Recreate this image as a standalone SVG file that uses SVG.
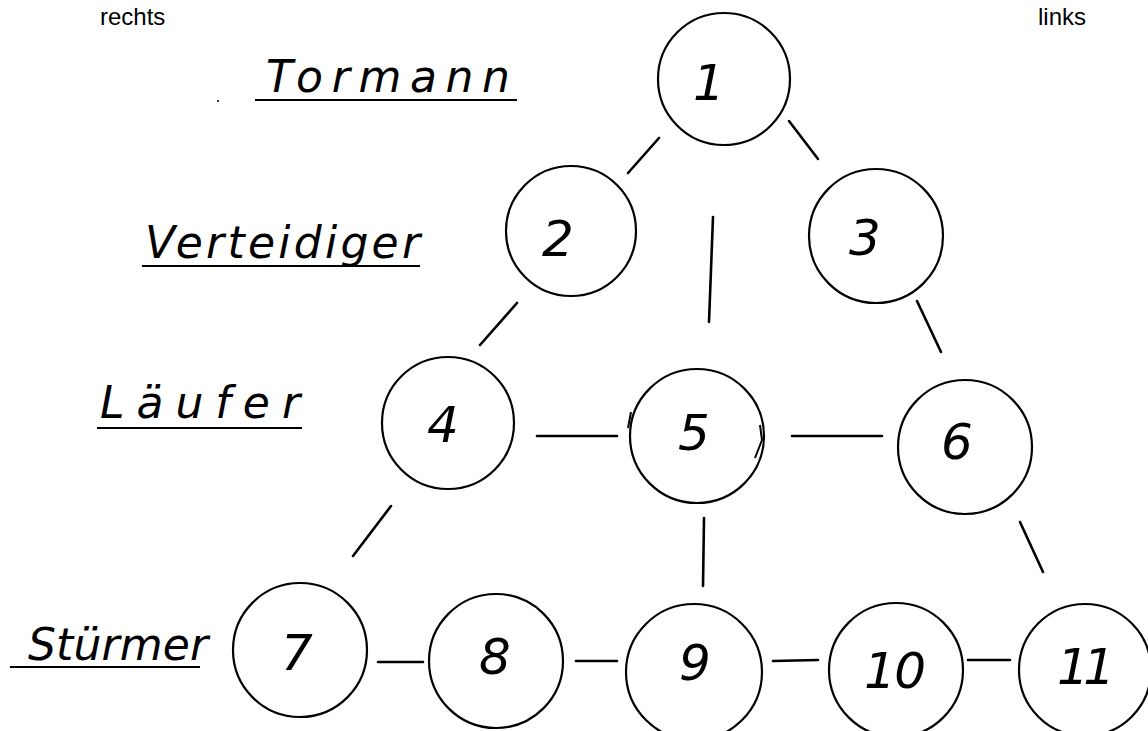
<svg xmlns="http://www.w3.org/2000/svg" width="1148" height="731" viewBox="0 0 1148 731">
  <style>
    .node { fill: none; stroke: #000; stroke-width: 2.2; }
    .num { font-family: "DejaVu Sans", "Liberation Sans", sans-serif; font-style: italic; font-size: 50px; fill: #000; text-anchor: middle; }
    .lbl { font-family: "DejaVu Sans", "Liberation Sans", sans-serif; font-style: italic; font-size: 44px; fill: #000; }
    .ul { stroke: #000; stroke-width: 2; fill: none; }
    .hdr { font-family: "Liberation Sans", Arial, sans-serif; font-size: 24px; fill: #000; }
    .edge { stroke: #000; stroke-width: 2.6; stroke-linecap: round; fill: none; }
  </style>
  <rect width="1148" height="731" fill="#fff"/>

  <text class="hdr" x="100" y="25">rechts</text>
  <text class="hdr" x="1038" y="25">links</text>

  <g id="labels">
    <text class="lbl" x="266" y="92" font-size="50" textLength="244" lengthAdjust="spacing">Tormann</text>
    <line class="ul" x1="255" y1="100" x2="517" y2="100"/>
    <text class="lbl" x="145" y="258" font-size="46" textLength="275" lengthAdjust="spacing">Verteidiger</text>
    <line class="ul" x1="142" y1="266" x2="420" y2="266"/>
    <text class="lbl" x="100" y="418" font-size="48" textLength="200" lengthAdjust="spacing">Läufer</text>
    <line class="ul" x1="97" y1="428" x2="302" y2="428"/>
    <text class="lbl" x="28" y="660" font-size="44" textLength="180" lengthAdjust="spacing">Stürmer</text>
    <line class="ul" x1="10" y1="667" x2="200" y2="667"/>
    <circle cx="218" cy="101" r="1" fill="#000"/>
  </g>

  <g id="connectors">
    <line class="edge" x1="659" y1="138" x2="628" y2="173"/>
    <line class="edge" x1="789" y1="121" x2="818" y2="159"/>
    <line class="edge" x1="713" y1="217" x2="709" y2="322"/>
    <line class="edge" x1="517" y1="303" x2="480" y2="345"/>
    <line class="edge" x1="917" y1="301" x2="941" y2="352"/>
    <line class="edge" x1="537" y1="436" x2="617" y2="436"/>
    <line class="edge" x1="792" y1="436" x2="882" y2="436"/>
    <line class="edge" x1="391" y1="506" x2="353" y2="556"/>
    <line class="edge" x1="704" y1="518" x2="703" y2="586"/>
    <line class="edge" x1="1020" y1="522" x2="1043" y2="572"/>
    <line class="edge" x1="378" y1="662" x2="423" y2="662"/>
    <line class="edge" x1="576" y1="661" x2="617" y2="661"/>
    <line class="edge" x1="773" y1="661" x2="818" y2="660"/>
    <line class="edge" x1="968" y1="660" x2="1010" y2="660"/>
  </g>

  <g id="n1"><circle class="node" cx="724" cy="79" r="66"/><text class="num" x="709" y="100">1</text></g>
  <g id="n2"><circle class="node" cx="571" cy="231" r="65"/><text class="num" x="558" y="256">2</text></g>
  <g id="n3"><circle class="node" cx="876" cy="236" r="67"/><text class="num" x="865" y="255">3</text></g>
  <g id="n4"><circle class="node" cx="448" cy="423" r="66"/><text class="num" x="443" y="442">4</text></g>
  <g id="n5"><circle class="node" cx="697" cy="436" r="67"/><text class="num" x="694" y="450">5</text>
    <path class="ul" d="M631 412 L628 428 M760 425 L762 440 L755 458"/></g>
  <g id="n6"><circle class="node" cx="965" cy="447" r="67"/><text class="num" x="957" y="459">6</text></g>
  <g id="n7"><circle class="node" cx="300" cy="650" r="67"/><text class="num" x="297" y="670">7</text></g>
  <g id="n8"><circle class="node" cx="496" cy="661" r="67"/><text class="num" x="495" y="674">8</text></g>
  <g id="n9"><circle class="node" cx="694" cy="672" r="68"/><text class="num" x="695" y="680">9</text></g>
  <g id="n10"><circle class="node" cx="896" cy="670" r="67"/><text class="num" x="895" y="688" textLength="62" lengthAdjust="spacing">10</text></g>
  <g id="n11"><circle class="node" cx="1085" cy="670" r="66"/><text class="num" x="1086" y="684" textLength="58" lengthAdjust="spacing">11</text></g>
</svg>
